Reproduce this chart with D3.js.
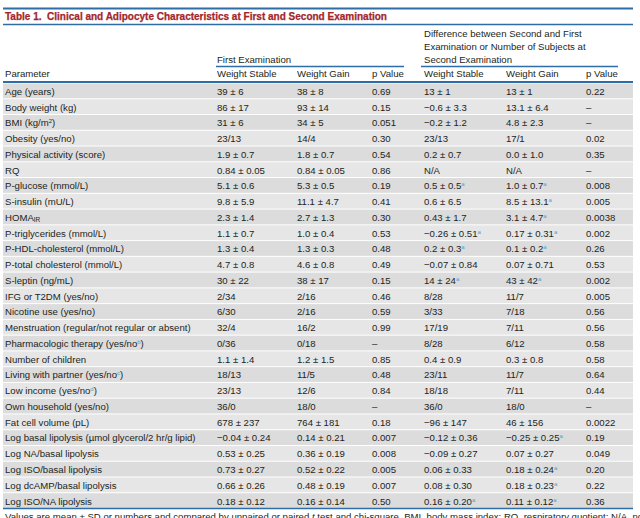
<!DOCTYPE html>
<html><head><meta charset="utf-8">
<script src="https://cdn.jsdelivr.net/npm/d3@7"></script>
<style>
html,body{margin:0;padding:0;background:#fff;}
svg text{font-family:"Liberation Sans",Arial,Helvetica,sans-serif;}
</style></head>
<body>
<svg id="t" width="640" height="518"></svg>
<script>
// ---- data ----
const title = "Table 1.  Clinical and Adipocyte Characteristics at First and Second Examination";
const groupHeaders = ["First Examination", "Difference between Second and First|Examination or Number of Subjects at|Second Examination"];
const columnHeaders = ["Parameter", "Weight Stable", "Weight Gain", "p Value", "Weight Stable", "Weight Gain", "p Value"];
const parameters = [
  "Age (years)", "Body weight (kg)", "BMI (kg/m^2)", "Obesity (yes/no)", "Physical activity (score)", "RQ",
  "P-glucose (mmol/L)", "S-insulin (mU/L)", "HOMA_IR", "P-triglycerides (mmol/L)", "P-HDL-cholesterol (mmol/L)",
  "P-total cholesterol (mmol/L)", "S-leptin (ng/mL)", "IFG or T2DM (yes/no)", "Nicotine use (yes/no)",
  "Menstruation (regular/not regular or absent)", "Pharmacologic therapy (yes/no^b)", "Number of children",
  "Living with partner (yes/no^c)", "Low income (yes/no^d)", "Own household (yes/no)", "Fat cell volume (pL)",
  "Log basal lipolysis (µmol glycerol/2 hr/g lipid)", "Log NA/basal lipolysis", "Log ISO/basal lipolysis",
  "Log dcAMP/basal lipolysis", "Log ISO/NA lipolysis"
];
const firstStable = ["39 ± 6","86 ± 17","31 ± 6","23/13","1.9 ± 0.7","0.84 ± 0.05","5.1 ± 0.6","9.8 ± 5.9","2.3 ± 1.4","1.1 ± 0.7","1.3 ± 0.4","4.7 ± 0.8","30 ± 22","2/34","6/30","32/4","0/36","1.1 ± 1.4","18/13","23/13","36/0","678 ± 237","−0.04 ± 0.24","0.53 ± 0.25","0.73 ± 0.27","0.66 ± 0.26","0.18 ± 0.12"];
const firstGain = ["38 ± 8","93 ± 14","34 ± 5","14/4","1.8 ± 0.7","0.84 ± 0.05","5.3 ± 0.5","11.1 ± 4.7","2.7 ± 1.3","1.0 ± 0.4","1.3 ± 0.3","4.6 ± 0.8","38 ± 17","2/16","2/16","16/2","0/18","1.2 ± 1.5","11/5","12/6","18/0","764 ± 181","0.14 ± 0.21","0.36 ± 0.19","0.52 ± 0.22","0.48 ± 0.19","0.16 ± 0.14"];
const firstP = ["0.69","0.15","0.051","0.30","0.54","0.86","0.19","0.41","0.30","0.53","0.48","0.49","0.15","0.46","0.59","0.99","–","0.85","0.48","0.84","–","0.18","0.007","0.008","0.005","0.007","0.50"];
const diffStable = ["13 ± 1","−0.6 ± 3.3","−0.2 ± 1.2","23/13","0.2 ± 0.7","N/A","0.5 ± 0.5^a","0.6 ± 6.5","0.43 ± 1.7","−0.26 ± 0.51^a","0.2 ± 0.3^a","−0.07 ± 0.84","14 ± 24^a","8/28","3/33","17/19","8/28","0.4 ± 0.9","23/11","18/18","36/0","−96 ± 147","−0.12 ± 0.36","−0.09 ± 0.27","0.06 ± 0.33","0.08 ± 0.30","0.16 ± 0.20^a"];
const diffGain = ["13 ± 1","13.1 ± 6.4","4.8 ± 2.3","17/1","0.0 ± 1.0","N/A","1.0 ± 0.7^a","8.5 ± 13.1^a","3.1 ± 4.7^a","0.17 ± 0.31^a","0.1 ± 0.2^a","0.07 ± 0.71","43 ± 42^a","11/7","7/18","7/11","6/12","0.3 ± 0.8","11/7","7/11","18/0","46 ± 156","−0.25 ± 0.25^a","0.07 ± 0.27","0.18 ± 0.24^a","0.18 ± 0.23^a","0.11 ± 0.12^a"];
const diffP = ["0.22","–","–","0.02","0.35","–","0.008","0.005","0.0038","0.002","0.26","0.53","0.002","0.005","0.56","0.56","0.58","0.58","0.64","0.44","–","0.0022","0.19","0.049","0.20","0.22","0.36"];
const footnote = "Values are mean ± SD or numbers and compared by unpaired or paired t test and chi-square. BMI, body mass index; RQ, respiratory quotient; N/A, not";

// ---- layout ----
const svg = d3.select("#t");
const left = 3, right = 633;
const blue = "#2f6da6", red = "#a3262c", txt = "#231f20", supBlue = "#4aa3c8";
const fs = 9.6;

const columns = [parameters, firstStable, firstGain, firstP, diffStable, diffGain, diffP];
const colX = d3.scaleOrdinal().domain(d3.range(7)).range([5, 217, 297, 372, 424, 506, 586]);
const rowY = d3.scaleBand().domain(d3.range(parameters.length)).range([82.5, 508]).paddingInner(0);

// title bar
svg.append("line").attr("x1", left).attr("x2", right).attr("y1", 8.5).attr("y2", 8.5).attr("stroke", blue).attr("stroke-width", 2);
svg.append("line").attr("x1", left).attr("x2", right).attr("y1", 24.5).attr("y2", 24.5).attr("stroke", blue).attr("stroke-width", 1.5);
svg.append("text").attr("x", 5).attr("y", 20).attr("fill", red).attr("font-weight", "bold").attr("font-size", 10)
  .attr("stroke", red).attr("stroke-width", 0.25).style("white-space", "pre")
  .text(title).attr("textLength", 382).attr("lengthAdjust", "spacingAndGlyphs");

// rich text helper: ^x superscript, _x subscript
function rich(sel, s, supColor) {
  const re = /(\^[a-z0-9]+|_[A-Z]+)/g;
  const parts = s.split(re).filter(p => p !== "");
  parts.forEach(p => {
    if (p[0] === "^") {
      const t = sel.append("tspan").attr("baseline-shift", "super").attr("font-size", fs * 0.62).text(p.slice(1));
      if (supColor && /[a-d]/.test(p.slice(1))) t.attr("fill", supColor);
    } else if (p[0] === "_") {
      sel.append("tspan").attr("baseline-shift", "-1.2").attr("font-size", fs * 0.68).text(p.slice(1));
    } else sel.append("tspan").text(p);
  });
}

// group headers
svg.append("text").attr("x", colX(1)).attr("y", 62.5).attr("fill", txt).attr("font-size", fs).text(groupHeaders[0]);
groupHeaders[1].split("|").forEach((l, i) => {
  svg.append("text").attr("x", colX(4)).attr("y", 36.5 + i * 13).attr("fill", txt).attr("font-size", fs).text(l);
});
svg.append("line").attr("x1", 216).attr("x2", 404).attr("y1", 66.5).attr("y2", 66.5).attr("stroke", blue).attr("stroke-width", 1.5);
svg.append("line").attr("x1", 421).attr("x2", 618).attr("y1", 66.5).attr("y2", 66.5).attr("stroke", blue).attr("stroke-width", 1.5);

// column headers
svg.selectAll("text.ch").data(columnHeaders).join("text").attr("class", "ch")
  .attr("x", (d, i) => colX(i)).attr("y", 76.8).attr("fill", txt).attr("font-size", fs).text(d => d);

// rows
const rows = svg.append("g").selectAll("g").data(parameters.map((p, i) => i)).join("g");
rows.append("rect").attr("x", left).attr("width", right - left)
  .attr("y", i => rowY(i) + 1).attr("height", rowY.bandwidth() - 1)
  .attr("fill", i => i % 2 === 0 ? "#dcdcdd" : "#e6e6e7");
columns.forEach((col, c) => {
  rows.append("text").attr("x", colX(c)).attr("y", i => rowY(i) + rowY.bandwidth() / 2 + 4.4)
    .attr("fill", txt).attr("font-size", fs)
    .each(function (i) { rich(d3.select(this), col[i], supBlue); });
});

svg.append("line").attr("x1", left).attr("x2", right).attr("y1", 82).attr("y2", 82).attr("stroke", blue).attr("stroke-width", 2);
svg.append("line").attr("x1", left).attr("x2", right).attr("y1", 508.5).attr("y2", 508.5).attr("stroke", blue).attr("stroke-width", 1.5);

// footnote (cut at the bottom edge, as in the reference)
const fn = svg.append("text").attr("x", 5).attr("y", 520).attr("fill", txt).attr("font-size", fs);
const fparts = footnote.split(" t test");
fn.append("tspan").text(fparts[0] + " ");
fn.append("tspan").attr("font-style", "italic").text("t");
fn.append("tspan").text(" test" + fparts[1]);
</script>
</body></html>
